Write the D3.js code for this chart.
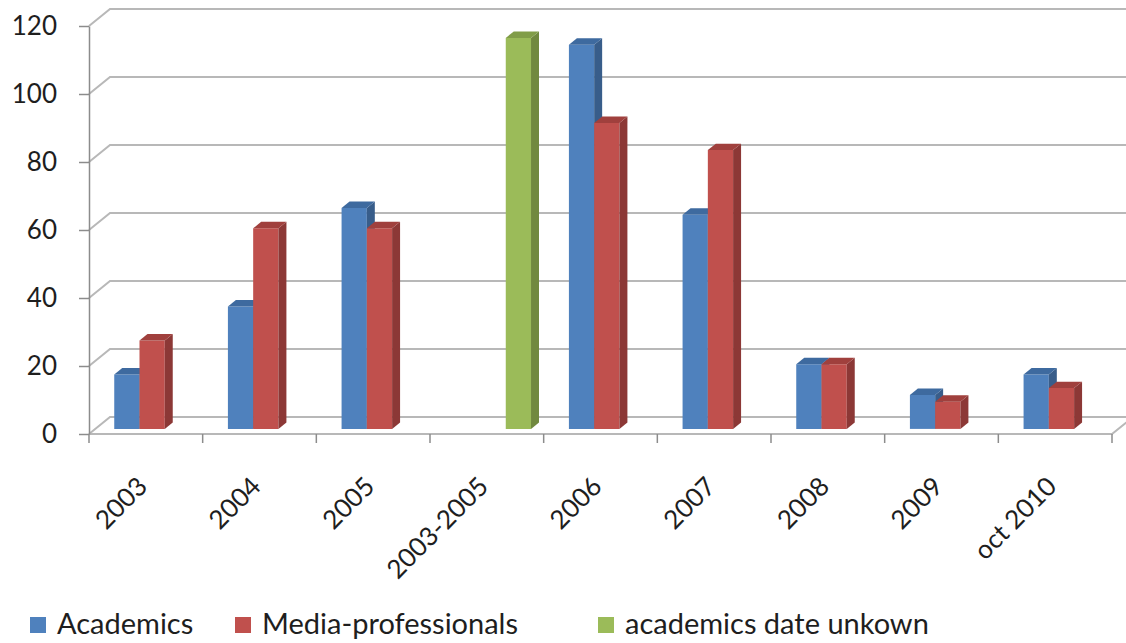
<!DOCTYPE html>
<html>
<head>
<meta charset="utf-8">
<script src="https://cdn.jsdelivr.net/npm/d3@7"></script>
<style>
  body { margin: 0; background: #fff; }
  text { font-family: Lato, "Open Sans", sans-serif; fill: #1e1e1e; }
</style>
</head>
<body>
<svg id="chart" width="1126" height="643"></svg>
<script>
// data
let categories = ["2003", "2004", "2005", "2003-2005", "2006", "2007", "2008", "2009", "oct 2010"];
let academics = [16, 36, 65, null, 113, 63, 19, 10, 16];
let mediaPros = [26, 59, 59, null, 90, 82, 19, 8, 12];
let unknownDate = [null, null, null, 115, null, null, null, null, null];
let seriesNames = ["Academics", "Media-professionals", "academics date unkown"];
let yTicks = [0, 20, 40, 60, 80, 100, 120];

let svg = d3.select("#chart");

// front plane scales
let x = d3.scaleBand().domain(categories).range([89, 1112]);
let y = d3.scaleLinear().domain([0, 120]).range([434, 26]);
let inner = d3.scaleBand().domain(seriesNames).range([0, x.bandwidth()]).paddingOuter(0.75);

// oblique depth: full depth shift
let DX = 21, DY = -17;
let t0 = 0.3, t1 = 0.68;   // bar front / back depth fractions

let faces = {
  "Academics": {front: "#4F81BD", top: "#3E6A9F", side: "#385D8A"},
  "Media-professionals": {front: "#C0504D", top: "#A0403D", side: "#8C3836"},
  "academics date unkown": {front: "#9BBB59", top: "#819D48", side: "#71893F"}
};

let grid = svg.append("g").attr("class", "grid");

// back wall grid lines + left wall diagonals
yTicks.forEach(v => {
  let yf = y(v);
  grid.append("path")
    .attr("d", `M${x.range()[0]},${yf} L${x.range()[0] + DX},${yf + DY} L1140,${yf + DY}`)
    .attr("fill", "none").attr("stroke", "#b8b8b8").attr("stroke-width", 2);
});

// floor front edge + right edge
grid.append("path")
  .attr("d", `M${x.range()[0]},${y(0)} L${x.range()[1]},${y(0)} L${x.range()[1] + DX},${y(0) + DY}`)
  .attr("fill", "none").attr("stroke", "#b8b8b8").attr("stroke-width", 2);

// value axis
let axisG = svg.append("g").attr("transform", `translate(${x.range()[0]},0)`);
axisG.call(d3.axisLeft(y).tickValues(yTicks).tickSize(10).tickPadding(22).tickSizeOuter(0));
axisG.select(".domain").attr("stroke", "#8c8c8c").attr("stroke-width", 1.5);
axisG.selectAll(".tick line").attr("stroke", "#8c8c8c").attr("stroke-width", 1.5);
axisG.selectAll(".tick text").attr("font-size", 26).attr("fill", "#1e1e1e")
  .style("font-family", "Lato, sans-serif");

// category ticks
let catTicks = categories.map(c => x(c)).concat([x.range()[1]]);
svg.append("g").selectAll("line").data(catTicks).join("line")
  .attr("x1", d => d).attr("x2", d => d)
  .attr("y1", y(0)).attr("y2", y(0) + 9)
  .attr("stroke", "#8c8c8c").attr("stroke-width", 1.5);

// bars
let rows = [];
categories.forEach((c, i) => {
  [academics, mediaPros, unknownDate].forEach((arr, s) => {
    if (arr[i] != null) rows.push({cat: c, series: seriesNames[s], value: arr[i]});
  });
});

let bars = svg.append("g").selectAll("g").data(rows).join("g");
let bw = inner.bandwidth();
function pt(px, py, t) { return [px + DX * t, py + DY * t]; }
function poly(pts) { return "M" + pts.map(p => p.join(",")).join("L") + "Z"; }

bars.each(function (d) {
  let g = d3.select(this);
  let xl = x(d.cat) + inner(d.series), xr = xl + bw;
  let yt = y(d.value), yb = y(0);
  let f = faces[d.series];
  // front
  g.append("path").attr("d", poly([pt(xl, yt, t0), pt(xr, yt, t0), pt(xr, yb, t0), pt(xl, yb, t0)]))
    .attr("fill", f.front);
  // side
  g.append("path").attr("d", poly([pt(xr, yt, t0), pt(xr, yt, t1), pt(xr, yb, t1), pt(xr, yb, t0)]))
    .attr("fill", f.side);
  // top
  g.append("path").attr("d", poly([pt(xl, yt, t0), pt(xl, yt, t1), pt(xr, yt, t1), pt(xr, yt, t0)]))
    .attr("fill", f.top);
});

// category labels
svg.append("g").selectAll("text").data(categories).join("text")
  .attr("transform", c => `translate(${x(c) + x.bandwidth() / 2 + 3},${y(0) + 54}) rotate(-45)`)
  .attr("text-anchor", "end")
  .attr("font-size", 26)
  .text(c => c);

// legend
let legendX = [30, 235, 598];
let legend = svg.append("g").selectAll("g").data(seriesNames).join("g")
  .attr("transform", (d, i) => `translate(${legendX[i]},617)`);
legend.append("rect").attr("width", 16).attr("height", 16).attr("fill", d => faces[d].front);
legend.append("text").attr("x", 27).attr("y", 17).attr("font-size", 29).text(d => d);
</script>
</body>
</html>
